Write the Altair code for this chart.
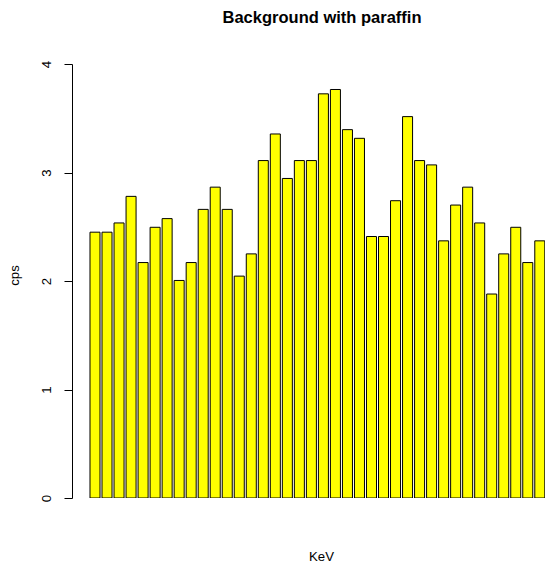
import altair as alt
import pandas as pd

bar_index = list(range(1, 39))
cps = [2.45, 2.45, 2.535, 2.78, 2.17, 2.495, 2.575, 2.005, 2.17, 2.66,
       2.865, 2.66, 2.045, 2.25, 3.11, 3.355, 2.945, 3.11, 3.11, 3.725,
       3.765, 3.395, 3.315, 2.41, 2.41, 2.74, 3.515, 3.11, 3.07, 2.37,
       2.70, 2.865, 2.535, 1.88, 2.25, 2.495, 2.17, 2.37]

df = pd.DataFrame({"bar": bar_index, "cps": cps})

FONT = "Liberation Sans"

chart = (
    alt.Chart(df)
    .transform_calculate(
        x0="0.2 + 1.2 * (datum.bar - 1)",
        x1="1.2 * datum.bar",
    )
    .mark_bar(fill="#FFFF00", stroke="black", strokeWidth=1, clip=True)
    .encode(
        x=alt.X(
            "x0:Q",
            scale=alt.Scale(domain=[-1.596, 45.62], nice=False, zero=False),
            axis=alt.Axis(
                title="KeV", labels=False, ticks=False, domain=False, grid=False,
                titleX=249, titleY=62, titleBaseline="alphabetic", titleAlign="center",
                titleFont=FONT, titleFontSize=13.2, titleFontWeight="normal",
                titleColor="black",
            ),
        ),
        x2="x1:Q",
        y=alt.Y(
            "cps:Q",
            scale=alt.Scale(domain=[0, 4], nice=False),
            axis=alt.Axis(
                title="cps", values=[0, 1, 2, 3, 4], grid=False,
                tickSize=8, tickColor="black", domainColor="black",
                labelAngle=270, labelAlign="center", labelBaseline="bottom",
                labelPadding=11, labelFont=FONT, labelFontSize=13.2, labelColor="black",
                titleX=-58, titleY=211, titleAngle=270, titleBaseline="middle",
                titleAlign="center", titleFont=FONT, titleFontSize=13.2,
                titleFontWeight="normal", titleColor="black",
            ),
        ),
        y2=alt.datum(0),
    )
    .properties(
        width=473,
        height=434,
        autosize=alt.AutoSizeParams(type="none"),
        padding={"left": 64, "top": 56, "right": 0, "bottom": 64},
        title=alt.TitleParams(
            "Background with paraffin", font=FONT, fontSize=16.5, fontWeight="bold",
            color="black", anchor="middle", baseline="alphabetic", offset=0,
            dx=13.5, dy=-21,
        ),
    )
    .configure_view(strokeWidth=0)
)

chart.save("out.html", embed_options={"renderer": "svg", "actions": False})
